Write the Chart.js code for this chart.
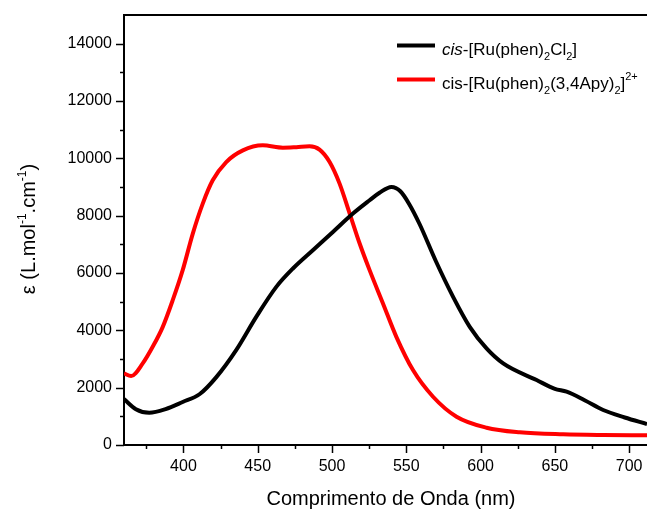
<!DOCTYPE html>
<html>
<head>
<meta charset="utf-8">
<script src="https://cdn.jsdelivr.net/npm/chart.js@4"></script>
<style>
  html, body { margin: 0; padding: 0; background: #fff; }
  #wrap { width: 647px; height: 509px; position: relative; }
</style>
</head>
<body>
<div id="wrap"><canvas id="c"></canvas></div>
<script>
// ---- data ----
const blackWavelengths = [360, 368, 377, 388, 399.5, 410.8, 422, 435.5, 449, 462.5, 473.7, 487.1, 500.6, 514.1, 525.3, 532, 540, 546, 552, 559, 570, 581.5, 592.7, 604, 615.2, 637.7, 650, 657.9, 670, 682.5, 697, 712];
const blackValues      = [1600, 1250, 1125, 1250, 1500, 1770, 2360, 3310, 4470, 5516, 6157, 6794, 7432, 8073, 8537, 8800, 9000, 8850, 8400, 7700, 6400, 5168, 4122, 3369, 2846, 2265, 1960, 1858, 1560, 1220, 960, 732];
const redWavelengths   = [360, 364.8, 372.6, 379.3, 386.1, 392.8, 399.5, 406.3, 413, 419.7, 428.8, 440, 453.4, 466.9, 476, 484.9, 491.6, 498.4, 505.1, 511.9, 518.6, 525.3, 534.3, 543.3, 554.5, 568, 583.8, 604, 626.4, 655.6, 682.5, 712];
const redValues        = [2498, 2404, 2846, 3425, 4122, 5052, 6098, 7376, 8421, 9233, 9871, 10279, 10453, 10372, 10390, 10418, 10303, 9871, 9118, 8073, 7028, 6100, 4937, 3774, 2613, 1683, 986, 603, 442, 372, 348, 338];
const xTickValues = [375, 400, 425, 450, 475, 500, 525, 550, 575, 600, 625, 650, 675, 700];
const xLabelValues = [400, 450, 500, 550, 600, 650, 700];
const yTickValues = [0, 1000, 2000, 3000, 4000, 5000, 6000, 7000, 8000, 9000, 10000, 11000, 12000, 13000, 14000];
const yLabelValues = [0, 2000, 4000, 6000, 8000, 10000, 12000, 14000];
const xRange = [360, 712];
const yRange = [0, 15000];

const FONT = '"Liberation Sans", Arial, sans-serif';

function toPoints(xs, ys) { return xs.map((x, i) => ({ x: x, y: ys[i] })); }

// draws tick marks, top frame line, axis titles and legend
const decorations = {
  id: 'decorations',
  afterDraw(chart) {
    const ctx = chart.ctx;
    const xs = chart.scales.x, ys = chart.scales.y;
    const a = chart.chartArea;
    ctx.save();
    ctx.strokeStyle = '#000';
    ctx.lineWidth = 1.5;
    // x ticks
    xTickValues.forEach(v => {
      const px = Math.round(xs.getPixelForValue(v)) + 0.5;
      const len = xLabelValues.includes(v) ? 8 : 4;
      ctx.beginPath(); ctx.moveTo(px, a.bottom); ctx.lineTo(px, a.bottom + len); ctx.stroke();
    });
    // y ticks
    yTickValues.forEach(v => {
      const py = Math.round(ys.getPixelForValue(v)) + 0.5;
      const len = yLabelValues.includes(v) ? 8 : 4;
      ctx.beginPath(); ctx.moveTo(a.left - len, py); ctx.lineTo(a.left, py); ctx.stroke();
    });
    // top frame
    ctx.lineWidth = 2;
    ctx.beginPath(); ctx.moveTo(a.left - 1, a.top); ctx.lineTo(a.right, a.top); ctx.stroke();

    ctx.fillStyle = '#000';
    ctx.textBaseline = 'alphabetic';
    // x title
    ctx.font = '20px ' + FONT;
    ctx.textAlign = 'center';
    ctx.fillText('Comprimento de Onda (nm)', 391, 505);

    // y title, rotated, with superscripts
    ctx.save();
    ctx.translate(34.5, 229);
    ctx.rotate(-Math.PI / 2);
    ctx.textAlign = 'left';
    const parts = [
      ['ε (', 0, 20], ['L.mol', 0, 20], ['-1', -9, 12], ['.cm', 0, 20], ['-1', -9, 12], [')', 0, 20]
    ];
    let tw = 0;
    parts.forEach(p => { ctx.font = p[2] + 'px ' + FONT; tw += ctx.measureText(p[0]).width; });
    let cx = -tw / 2;
    parts.forEach(p => {
      ctx.font = p[2] + 'px ' + FONT;
      ctx.fillText(p[0], cx, p[1]);
      cx += ctx.measureText(p[0]).width;
    });
    ctx.restore();

    // legend
    ctx.textAlign = 'left';
    const legendX = 397, legendLineW = 38, textX = 442;
    const rows = [
      { color: '#000000', lineY: 45.5, base: 55, parts: [['cis', 0, 17, 'italic'], ['-[Ru(phen)', 0, 17], ['2', 5, 11], ['Cl', 0, 17], ['2', 5, 11], [']', 0, 17]] },
      { color: '#ff0000', lineY: 79.5, base: 88.5, parts: [['cis-[Ru(phen)', 0, 17], ['2', 5, 11], ['(3,4Apy)', 0, 17], ['2', 5, 11], [']', 0, 17], ['2+', -9, 11]] }
    ];
    rows.forEach(r => {
      ctx.strokeStyle = r.color;
      ctx.lineWidth = 4;
      ctx.beginPath(); ctx.moveTo(legendX, r.lineY); ctx.lineTo(legendX + legendLineW, r.lineY); ctx.stroke();
      let x = textX;
      ctx.fillStyle = '#000';
      r.parts.forEach(p => {
        ctx.font = (p[3] ? p[3] + ' ' : '') + p[2] + 'px ' + FONT;
        ctx.fillText(p[0], x, r.base + p[1]);
        x += ctx.measureText(p[0]).width;
      });
    });
    ctx.restore();
  }
};

new Chart(document.getElementById('c'), {
  type: 'line',
  data: {
    datasets: [
      { label: 'cis-[Ru(phen)2Cl2]', data: toPoints(blackWavelengths, blackValues), borderColor: '#000000', borderWidth: 4, pointRadius: 0, cubicInterpolationMode: 'monotone', fill: false },
      { label: 'cis-[Ru(phen)2(3,4Apy)2]2+', data: toPoints(redWavelengths, redValues), borderColor: '#ff0000', borderWidth: 4, pointRadius: 0, cubicInterpolationMode: 'monotone', fill: false }
    ]
  },
  options: {
    responsive: true,
    maintainAspectRatio: false,
    animation: false,
    devicePixelRatio: 1,
    layout: { padding: { left: 0, right: 0, top: 15, bottom: 0 } },
    plugins: { legend: { display: false }, tooltip: { enabled: false } },
    scales: {
      x: {
        type: 'linear',
        min: xRange[0], max: xRange[1],
        afterBuildTicks: s => { s.ticks = xLabelValues.map(v => ({ value: v })); },
        afterFit: s => { s.height = 64; s.paddingLeft = 0; s.paddingRight = 0; s.paddingTop = 0; s.paddingBottom = 0; },
        grid: { display: false, drawTicks: false },
        border: { display: true, color: '#000', width: 2 },
        ticks: { color: '#000', font: { family: FONT, size: 16 }, padding: 12, maxRotation: 0, autoSkip: false, callback: v => String(v) }
      },
      y: {
        type: 'linear',
        min: yRange[0], max: yRange[1],
        afterBuildTicks: s => { s.ticks = yLabelValues.map(v => ({ value: v })); },
        afterFit: s => { s.width = 124; s.paddingLeft = 0; s.paddingRight = 0; s.paddingTop = 0; s.paddingBottom = 0; },
        grid: { display: false, drawTicks: false },
        border: { display: true, color: '#000', width: 2 },
        ticks: { color: '#000', font: { family: FONT, size: 16 }, padding: 12, autoSkip: false, callback: v => String(v) }
      }
    }
  },
  plugins: [decorations]
});
</script>
</body>
</html>
